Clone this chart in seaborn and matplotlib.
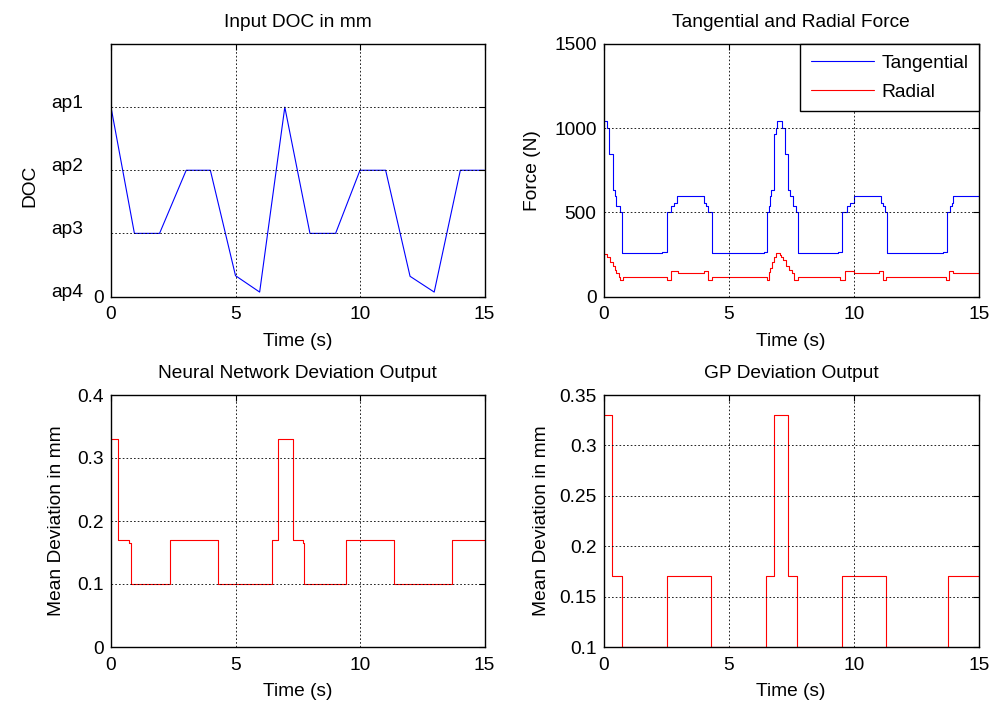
import numpy as np
import pandas as pd
import matplotlib
matplotlib.use("Agg")
import matplotlib.pyplot as plt
import seaborn as sns

# ---------------- data ----------------
# Input DOC (piecewise linear, y in DOC levels: 0=ap4 ... 3=ap1)
doc_t = [0.0, 0.94, 1.95, 3.02, 3.99, 5.0, 5.97, 6.98, 7.99, 9.02, 10.0, 11.03, 12.01, 12.98, 14.03, 15.0]
doc_v = [3.0, 1.0, 1.0, 2.0, 2.0, 0.33, 0.07, 3.0, 1.0, 1.0, 2.0, 2.0, 0.32, 0.07, 2.0, 2.0]
doc_levels = [3, 2, 1, 0]
doc_names = ["ap1", "ap2", "ap3", "ap4"]

# Tangential force (step, value holds from each time)
tan_t = [0.0, 0.13, 0.23, 0.37, 0.47, 0.51, 0.64, 0.75, 2.32, 2.52, 2.68, 2.82, 2.95, 4.02, 4.09,
         4.18, 4.32, 6.41, 6.54, 6.61, 6.66, 6.70, 6.80, 6.88, 6.93, 7.14, 7.24, 7.37, 7.47, 7.55,
         7.67, 7.78, 9.36, 9.54, 9.72, 9.86, 10.0, 11.07, 11.15, 11.23, 11.34, 13.55, 13.72, 13.85,
         13.92, 13.98, 15.0]
tan_v = [1045, 1000, 848, 635, 600, 537, 500, 256, 262, 500, 537, 556, 600, 556, 537,
         500, 256, 262, 500, 537, 600, 635, 966, 1000, 1045, 1000, 848, 635, 600, 537,
         500, 256, 262, 500, 537, 556, 600, 556, 537, 500, 256, 262, 500, 537,
         556, 600, 600]

# Radial force (step)
rad_t = [0.0, 0.13, 0.27, 0.36, 0.47, 0.51, 0.60, 0.64, 0.76, 2.52, 2.68, 2.98, 4.02, 4.18, 4.32,
         6.54, 6.61, 6.66, 6.74, 6.80, 6.88, 7.04, 7.10, 7.17, 7.30, 7.40, 7.51, 7.60, 7.77,
         9.45, 9.63, 10.0, 11.02, 11.16, 11.29, 13.69, 13.80, 13.95, 15.0]
rad_v = [252, 237, 207, 183, 158, 138, 118, 99, 118, 99, 154, 138, 154, 99, 118,
         99, 148, 168, 207, 237, 256, 247, 237, 217, 183, 158, 138, 99, 118,
         99, 154, 138, 154, 99, 118, 99, 154, 138, 138]

# Neural network deviation output (step)
nn_t = [0.0, 0.27, 0.74, 0.80, 2.38, 4.30, 6.48, 6.72, 7.30, 7.70, 7.76, 9.45, 11.36, 13.71, 15.0]
nn_v = [0.33, 0.17, 0.165, 0.10, 0.17, 0.10, 0.17, 0.33, 0.17, 0.165, 0.10, 0.17, 0.10, 0.17, 0.17]

# GP deviation output (step)
gp_t = [0.0, 0.33, 0.73, 2.53, 4.29, 6.51, 6.83, 7.36, 7.73, 9.51, 11.29, 13.76, 15.0]
gp_v = [0.33, 0.17, 0.10, 0.17, 0.10, 0.17, 0.33, 0.17, 0.10, 0.17, 0.10, 0.17, 0.17]

# ---------------- style ----------------
sns.set_theme(style="white")
FS = 13.8
plt.rcParams["font.family"] = ["Liberation Sans", "DejaVu Sans"]
plt.rcParams.update({
    "font.size": FS,
    "axes.linewidth": 1.0,
    "axes.edgecolor": "black",
    "xtick.direction": "in",
    "ytick.direction": "in",
    "xtick.top": True,
    "ytick.right": True,
    "xtick.major.size": 4,
    "ytick.major.size": 4,
    "xtick.major.width": 0.8,
    "ytick.major.width": 0.8,
    "xtick.color": "black",
    "ytick.color": "black",
    "xtick.labelsize": FS,
    "ytick.labelsize": FS,
    "xtick.major.pad": 7,
    "ytick.major.pad": 5,
    "text.color": "black",
    "axes.labelcolor": "black",
})

W, H = 1001, 701
fig = plt.figure(figsize=(W / 100, H / 100), dpi=100, facecolor="white")

def make_ax(l, r, t, b):
    return fig.add_axes([l / W, 1 - b / H, (r - l) / W, (b - t) / H])

ax1 = make_ax(111, 484.5, 44, 296.5)
ax2 = make_ax(603.5, 979, 44, 296.5)
ax3 = make_ax(111, 484.5, 395, 647)
ax4 = make_ax(603.5, 979, 395, 647)

LW = 0.8
BLUE = "#0000ff"
RED = "#ff0000"

def style(ax, title):
    ax.set_xlim(0, 15)
    ax.set_xticks([0, 5, 10, 15])
    ax.grid(True, color="black", linestyle=(0, (2, 2.5)), linewidth=0.6)
    ax.set_axisbelow(False)
    ax.set_title(title, fontsize=FS, pad=12)
    ax.set_xlabel("Time (s)", fontsize=FS, labelpad=7)
    for s in ax.spines.values():
        s.set_visible(True)
        s.set_color("black")
        s.set_linewidth(1.0)

# --- Input DOC ---
sns.lineplot(x=doc_t, y=doc_v, ax=ax1, color=BLUE, linewidth=LW, estimator=None, sort=False)
style(ax1, "Input DOC in mm")
ax1.set_ylim(0, 4)
ax1.set_yticks([0, 1, 2, 3])
ax1.set_yticklabels(["0", "", "", ""])
for lv, nm in zip(doc_levels, doc_names):
    ax1.text(-1.1, lv + 0.06, nm, ha="right", va="center", fontsize=FS)
ax1.set_ylabel("DOC", fontsize=FS, va="center")
ax1.yaxis.set_label_coords(-0.218, 0.44)

# --- Forces ---
sns.lineplot(x=tan_t, y=tan_v, ax=ax2, color=BLUE, linewidth=LW, estimator=None, sort=False,
             drawstyle="steps-post", label="Tangential")
sns.lineplot(x=rad_t, y=rad_v, ax=ax2, color=RED, linewidth=LW, estimator=None, sort=False,
             drawstyle="steps-post", label="Radial")
style(ax2, "Tangential and Radial Force")
ax2.set_ylim(0, 1500)
ax2.set_yticks([0, 500, 1000, 1500])
ax2.set_ylabel("Force (N)", fontsize=FS, va="center")
ax2.yaxis.set_label_coords(-0.19, 0.5)
leg = ax2.legend(loc="upper right", borderaxespad=0, fancybox=False, framealpha=1,
                 edgecolor="black", handlelength=3.3, handletextpad=0.4, labelspacing=0.6,
                 borderpad=0.55, fontsize=FS)
leg.get_frame().set_linewidth(1.0)

# --- NN deviation ---
sns.lineplot(x=nn_t, y=nn_v, ax=ax3, color=RED, linewidth=LW, estimator=None, sort=False,
             drawstyle="steps-post")
style(ax3, "Neural Network Deviation Output")
ax3.set_ylim(0, 0.4)
ax3.set_yticks([0, 0.1, 0.2, 0.3, 0.4])
ax3.set_yticklabels(["0", "0.1", "0.2", "0.3", "0.4"])
ax3.set_ylabel("Mean Deviation in mm", fontsize=FS, va="center")
ax3.yaxis.set_label_coords(-0.145, 0.5)

# --- GP deviation ---
sns.lineplot(x=gp_t, y=gp_v, ax=ax4, color=RED, linewidth=LW, estimator=None, sort=False,
             drawstyle="steps-post")
style(ax4, "GP Deviation Output")
ax4.set_ylim(0.1, 0.35)
ax4.set_yticks([0.1, 0.15, 0.2, 0.25, 0.3, 0.35])
ax4.set_yticklabels(["0.1", "0.15", "0.2", "0.25", "0.3", "0.35"])
ax4.set_ylabel("Mean Deviation in mm", fontsize=FS, va="center")
ax4.yaxis.set_label_coords(-0.165, 0.5)

fig.savefig("out.png", dpi=100, facecolor="white")
